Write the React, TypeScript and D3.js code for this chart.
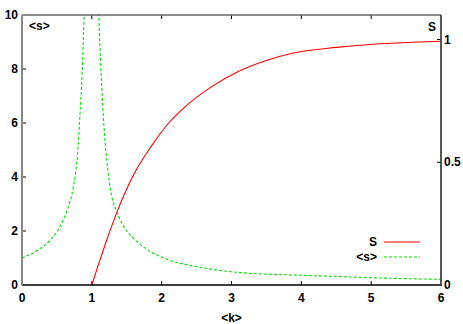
import React from "react";
import * as d3 from "d3";

// values
const kS = [1, 1.1, 1.2, 1.357, 1.6, 1.858, 2.1, 2.335, 2.7, 3.12, 3.5, 3.89, 4.5, 5.03, 5.5, 6];
const sVals = [0, 0.088, 0.172, 0.295, 0.45, 0.568, 0.66, 0.726, 0.805, 0.873, 0.915, 0.945, 0.968, 0.981, 0.988, 0.993];

const kLow = [0, 0.25, 0.4, 0.544, 0.65, 0.735, 0.8, 0.83, 0.86, 0.888, 0.9];
const meanLow = [1, 1.33, 1.65, 2.16, 2.8, 3.64, 5.0, 6.3, 7.8, 9.9, 11];

const kHigh = [1.09, 1.1, 1.13, 1.165, 1.2, 1.26, 1.357, 1.45, 1.62, 1.8, 2.1, 2.5, 3.12, 4, 4.56, 5, 6];
const meanHigh = [11, 10, 8, 6.23, 5, 3.64, 2.71, 2.2, 1.67, 1.3, 0.93, 0.68, 0.46, 0.36, 0.31, 0.27, 0.21];

const xTicks = [0, 1, 2, 3, 4, 5, 6];
const leftTicks = [0, 2, 4, 6, 8, 10];
const rightTicks = [0, 0.5, 1];

const W = 463;
const H = 324;
const m = { left: 22, right: 441, top: 15, bottom: 285 };
const font = "'Liberation Sans', Arial, sans-serif";

export default function App() {
  const x = d3.scaleLinear().domain([0, 6]).range([m.left, m.right]);
  const yL = d3.scaleLinear().domain([0, 10]).range([m.bottom, m.top]);
  const yR = d3.scaleLinear().domain([0, 1.1]).range([m.bottom, m.top]);

  const lineS = d3
    .line<number>()
    .x((_, i) => x(kS[i]))
    .y((d) => yR(d))
    .curve(d3.curveMonotoneX);
  const lineLow = d3
    .line<number>()
    .x((_, i) => x(kLow[i]))
    .y((d) => yL(d))
    .curve(d3.curveMonotoneX);
  const lineHigh = d3
    .line<number>()
    .x((_, i) => x(kHigh[i]))
    .y((d) => yL(d))
    .curve(d3.curveMonotoneX);

  const green = "#00e000";
  const red = "#ff0000";

  return (
    <svg
      width={W}
      height={H}
      style={{ position: "absolute", left: 0, top: 0, background: "#fff" }}
      fontFamily={font}
      fontWeight="bold"
      fontSize={12}
    >
      <defs>
        <clipPath id="plot">
          <rect x={m.left} y={m.top} width={m.right - m.left} height={m.bottom - m.top} />
        </clipPath>
      </defs>

      {/* ticks */}
      {xTicks.slice(1, -1).map((t) => (
        <g key={"xt" + t} stroke="#000" strokeWidth={1}>
          <line x1={x(t)} x2={x(t)} y1={m.bottom} y2={m.bottom - 4} />
          <line x1={x(t)} x2={x(t)} y1={m.top} y2={m.top + 4} />
        </g>
      ))}
      {leftTicks.slice(1, -1).map((t) => (
        <line key={"lt" + t} x1={m.left} x2={m.left + 4} y1={yL(t)} y2={yL(t)} stroke="#000" />
      ))}
      {rightTicks.slice(1).map((t) => (
        <line key={"rt" + t} x1={m.right} x2={m.right - 4} y1={yR(t)} y2={yR(t)} stroke="#000" />
      ))}

      {/* curves */}
      <g clipPath="url(#plot)" fill="none" strokeWidth={1.1}>
        <path d={lineLow(meanLow) || ""} stroke={green} strokeDasharray="3,2" />
        <path d={lineHigh(meanHigh) || ""} stroke={green} strokeDasharray="3,2" />
        <path d={lineS(sVals) || ""} stroke={red} />
      </g>

      {/* border */}
      <line x1={m.left} x2={m.right} y1={m.top} y2={m.top} stroke="#666" strokeWidth={1.5} />
      <line x1={m.left} x2={m.right + 1} y1={m.bottom} y2={m.bottom} stroke="#000" strokeWidth={1.5} />
      <line x1={m.right} x2={m.right} y1={m.top} y2={m.bottom} stroke="#444" strokeWidth={1.8} />
      <line x1={m.left} x2={m.left} y1={m.top} y2={m.bottom} stroke="#888" strokeWidth={2} />

      {/* tick labels */}
      {xTicks.map((t) => (
        <text key={"xl" + t} x={x(t)} y={302} textAnchor="middle">
          {t}
        </text>
      ))}
      {leftTicks.map((t) => (
        <text key={"ll" + t} x={18} y={yL(t) + 4} textAnchor="end">
          {t}
        </text>
      ))}
      {rightTicks.map((t) => (
        <text key={"rl" + t} x={444} y={yR(t) + 4} textAnchor="start">
          {t}
        </text>
      ))}

      {/* axis titles */}
      <text x={x(3)} y={322} textAnchor="middle">
        {"<k>"}
      </text>
      <text x={29} y={30}>
        {"<s>"}
      </text>
      <text x={436} y={31} textAnchor="end">
        S
      </text>

      {/* legend */}
      <text x={377} y={246} textAnchor="end">
        S
      </text>
      <line x1={384} x2={420} y1={242} y2={242} stroke={red} strokeWidth={1.1} />
      <text x={377} y={261} textAnchor="end">
        {"<s>"}
      </text>
      <line x1={384} x2={420} y1={257} y2={257} stroke={green} strokeWidth={1.1} strokeDasharray="3,2" />
    </svg>
  );
}
